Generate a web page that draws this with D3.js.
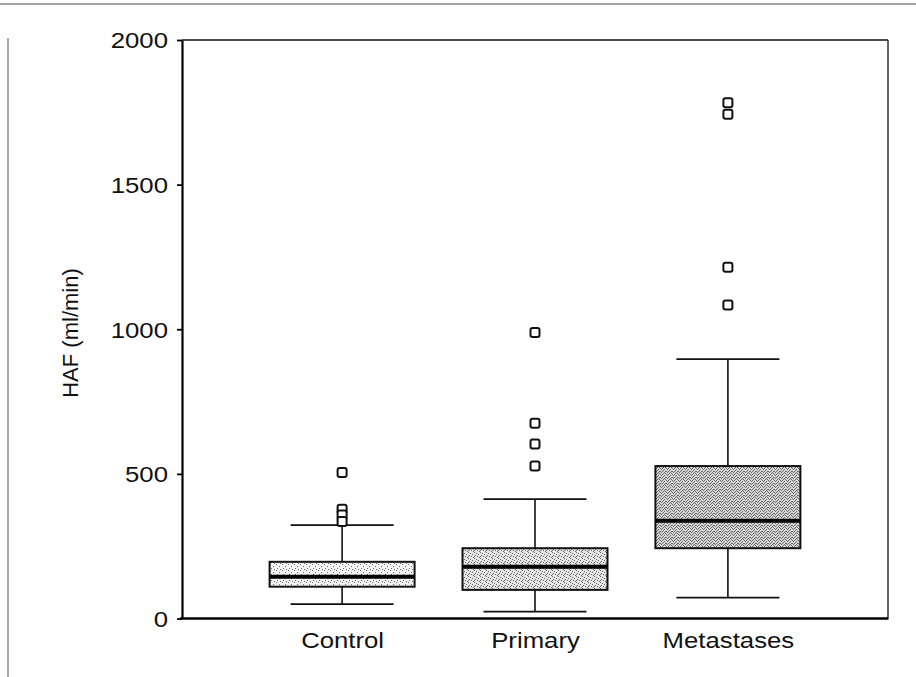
<!DOCTYPE html>
<html>
<head>
<meta charset="utf-8">
<script src="https://d3js.org/d3.v7.min.js"></script>
<style>
  html, body { margin: 0; padding: 0; background: #fff; }
  svg { display: block; }
  text { font-family: "Liberation Sans", Arial, sans-serif; fill: #111; }
</style>
</head>
<body>
<svg id="chart" width="916" height="677"></svg>
<script>
// ---- data ----
const categories = ["Control", "Primary", "Metastases"];
const whiskerLow  = [50, 24, 72];
const q1          = [110, 99, 243];
const medians     = [144, 179, 338];
const q3          = [196, 243, 527];
const whiskerHigh = [323, 413, 897];
const outliers    = [[505, 378, 358, 335], [989, 675, 603, 527], [1783, 1743, 1214, 1084]];
const yTicks      = [0, 500, 1000, 1500, 2000];
const yLabel      = "HAF (ml/min)";

// ---- layout ----
const svg = d3.select("#chart");
const L = 182, R = 888, T = 40, B = 618.5;

const x = d3.scalePoint().domain(categories).range([L, R]).padding(0.83);
const y = d3.scaleLinear().domain([0, 2000]).range([B, T]);
const boxW = 145, capW = 103;

// stipple patterns
const defs = svg.append("defs");
const densities = [
  {id: "p0", bg: "#f3f3f3", dots: [[0,0],[3,2],[1,4],[4,5]]},
  {id: "p1", bg: "#e6e6e6", dots: [[0,0],[2,1],[4,2],[1,3],[3,4],[5,5],[0,4]]},
  {id: "p2", bg: "#d8d8d8", dots: [[0,0],[2,0],[1,1],[4,1],[3,2],[0,3],[2,3],[5,3],[1,4],[4,4],[3,5],[5,5]]}
];
densities.forEach(p => {
  const pat = defs.append("pattern").attr("id", p.id).attr("patternUnits", "userSpaceOnUse")
    .attr("width", 6).attr("height", 6);
  pat.append("rect").attr("width", 6).attr("height", 6).attr("fill", p.bg);
  p.dots.forEach(d => pat.append("rect").attr("x", d[0]).attr("y", d[1]).attr("width", 1).attr("height", 1).attr("fill", "#666"));
});

// scan frame lines
svg.append("line").attr("x1", 0).attr("x2", 916).attr("y1", 4).attr("y2", 4)
  .attr("stroke", "#444").attr("stroke-width", 1.2);
svg.append("line").attr("x1", 8).attr("x2", 8).attr("y1", 38).attr("y2", 677)
  .attr("stroke", "#555").attr("stroke-width", 1);

// plot frame (top & right)
svg.append("line").attr("x1", L).attr("x2", R).attr("y1", T).attr("y2", T)
  .attr("stroke", "#111").attr("stroke-width", 1.6);
svg.append("line").attr("x1", R).attr("x2", R).attr("y1", T).attr("y2", B + 1)
  .attr("stroke", "#111").attr("stroke-width", 1.3);

// y axis
const yAxis = svg.append("g").attr("transform", `translate(${L},0)`)
  .call(d3.axisLeft(y).tickValues(yTicks).tickFormat(d3.format("d")).tickSize(5).tickSizeOuter(0).tickPadding(9));
yAxis.select(".domain").attr("stroke", "#000").attr("stroke-width", 2.2);
yAxis.selectAll(".tick line").attr("stroke", "#000").attr("stroke-width", 1.8);
yAxis.selectAll(".tick text").attr("font-size", 22)
  .attr("font-family", "Liberation Sans, Arial, sans-serif").attr("fill", "#111")
  .attr("dy", "0.36em")
  .each(function() {
    const t = d3.select(this);
    const xx = +t.attr("x");
    t.attr("transform", `scale(1.17,1)`).attr("x", xx / 1.17);
  });

// x axis
const xAxis = svg.append("g").attr("transform", `translate(0,${B})`)
  .call(d3.axisBottom(x).tickSize(0).tickSizeOuter(0).tickPadding(14));
xAxis.select(".domain").attr("d", `M${L - 2},0H${R}`).attr("stroke", "#000").attr("stroke-width", 2.6);
xAxis.selectAll(".tick text").attr("font-size", 22)
  .attr("font-family", "Liberation Sans, Arial, sans-serif").attr("fill", "#111")
  .attr("transform", "scale(1.17,1)")
  .attr("dy", "0.72em");

// y label
svg.append("text")
  .attr("transform", `translate(78,333) rotate(-90)`)
  .attr("text-anchor", "middle").attr("font-size", 22)
  .text(yLabel);

// boxes
const g = svg.append("g");
categories.forEach((c, i) => {
  const cx = x(c);
  // whisker line
  g.append("line").attr("x1", cx).attr("x2", cx).attr("y1", y(whiskerLow[i])).attr("y2", y(whiskerHigh[i]))
    .attr("stroke", "#111").attr("stroke-width", 1.6);
  // caps
  [whiskerLow[i], whiskerHigh[i]].forEach(v => {
    g.append("line").attr("x1", cx - capW / 2).attr("x2", cx + capW / 2).attr("y1", y(v)).attr("y2", y(v))
      .attr("stroke", "#111").attr("stroke-width", 1.8);
  });
  // box
  g.append("rect").attr("x", cx - boxW / 2).attr("width", boxW)
    .attr("y", y(q3[i])).attr("height", y(q1[i]) - y(q3[i]))
    .attr("fill", `url(#p${i})`).attr("stroke", "#111").attr("stroke-width", 2);
  // median
  g.append("line").attr("x1", cx - boxW / 2).attr("x2", cx + boxW / 2).attr("y1", y(medians[i])).attr("y2", y(medians[i]))
    .attr("stroke", "#000").attr("stroke-width", 4);
  // outliers
  outliers[i].forEach(v => {
    g.append("rect").attr("x", cx - 4.5).attr("y", y(v) - 4.5).attr("width", 9).attr("height", 9)
      .attr("rx", 2).attr("fill", "#fff").attr("stroke", "#111").attr("stroke-width", 2);
  });
});
</script>
</body>
</html>
